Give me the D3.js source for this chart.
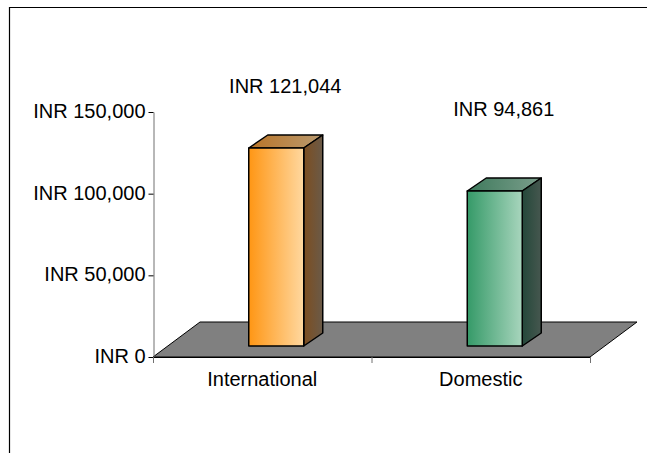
<!DOCTYPE html>
<html><head><meta charset="utf-8">
<script src="https://cdnjs.cloudflare.com/ajax/libs/d3/7.8.5/d3.min.js"></script>
<style>html,body{margin:0;padding:0;background:#fff}svg{display:block}text{font-family:"Liberation Sans",Arial,sans-serif;font-size:20px;fill:#000}</style>
</head><body><svg id="c" width="647" height="453"></svg>
<script>
const categories = ["International", "Domestic"];
const values = [121044, 94861];
const valueLabels = ["INR 121,044", "INR 94,861"];
const yTicks = [0, 50000, 100000, 150000];
const yTickLabels = ["INR 0", "INR 50,000", "INR 100,000", "INR 150,000"];
const frontStart = ["#ff9614", "#359a68"];
const frontEnd = ["#ffd8a0", "#a8d5bd"];
const topStart = ["#b97427", "#3e7a5c"];
const topEnd = ["#b99a70", "#7b9e8c"];
const sideStart = ["#7d4e20", "#24483a"];
const sideEnd = ["#6a5a48", "#46574f"];

const svg = d3.select("#c");
const x = d3.scaleBand().domain(categories).range([153, 590]);
const y = d3.scaleLinear().domain([0, 150000]).range([357, 112]);
const dx = 19, dy = -13, floorDx = 47, floorDy = -35, barW = 55, lift = 11, barShift = 14;
const defs = svg.append("defs");
function grad(id, a, b){
  const g = defs.append("linearGradient").attr("id", id);
  g.append("stop").attr("offset", "0").attr("stop-color", a);
  g.append("stop").attr("offset", "1").attr("stop-color", b);
  return `url(#${id})`;
}
// frame
svg.append("path").attr("d", "M9.5,453V7.5H647").attr("fill", "none").attr("stroke", "#000").attr("stroke-width", 1.2);
// floor
const y0 = y(0), xl = x.range()[0], xr = x.range()[1];
svg.append("path")
  .attr("d", `M${xl},${y0}L${xl+floorDx},${y0+floorDy}L${xr+floorDx},${y0+floorDy}L${xr},${y0}Z`)
  .attr("fill", "#808080").attr("stroke", "#000");
// axes
const yAxis = d3.axisLeft(y).tickValues(yTicks).tickSize(5).tickPadding(3).tickSizeOuter(0)
  .tickFormat((d, i) => yTickLabels[i]);
const gy = svg.append("g").attr("transform", "translate(153.5,0)").call(yAxis);
gy.select("path").attr("stroke", "#707070");
gy.selectAll("line").attr("stroke", "#000");
gy.selectAll("text").attr("dy", null).attr("y", 0).attr("dominant-baseline", null).attr("transform", "translate(0,5.5)");
svg.append("line").attr("x1", xl).attr("x2", xr).attr("y1", y0+.5).attr("y2", y0+.5).attr("stroke", "#000");
const xTickPos = [xl, xl + x.bandwidth(), xr];
svg.selectAll(".xt").data(xTickPos).join("line").attr("class", "xt")
  .attr("x1", d => d+.5).attr("x2", d => d+.5).attr("y1", y0).attr("y2", y0+6).attr("stroke", "#707070");
svg.selectAll(".xl").data(categories).join("text").attr("class", "xl")
  .attr("x", d => x(d) + x.bandwidth()/2).attr("y", 386).attr("text-anchor", "middle").text(d => d);
// bars
const floorY = v => y(v) - lift;
categories.forEach((c, i) => {
  const l = x(c) + x.bandwidth()/2 - barW/2 + barShift, r = l + barW;
  const t = Math.round(floorY(values[i])), b = Math.round(floorY(0));
  const g = svg.append("g").attr("stroke", "#000").attr("stroke-width", 1.5).attr("stroke-linejoin", "round");
  g.append("path").attr("d", `M${l},${t}L${l+dx},${t+dy}L${r+dx},${t+dy}L${r},${t}Z`).attr("fill", grad("t"+i, topStart[i], topEnd[i]));
  g.append("path").attr("d", `M${r},${t}L${r+dx},${t+dy}L${r+dx},${b+dy}L${r},${b}Z`).attr("fill", grad("s"+i, sideStart[i], sideEnd[i]));
  g.append("rect").attr("x", l).attr("y", t).attr("width", barW).attr("height", b-t).attr("fill", grad("f"+i, frontStart[i], frontEnd[i]));
});
const labelRaise = [55, 75];
svg.selectAll(".vl").data(valueLabels).join("text").attr("class", "vl")
  .attr("x", (d, i) => x(categories[i]) + x.bandwidth()/2 + barShift + 9)
  .attr("y", (d, i) => floorY(values[i]) - labelRaise[i])
  .attr("text-anchor", "middle").text(d => d);
</script></body></html>
